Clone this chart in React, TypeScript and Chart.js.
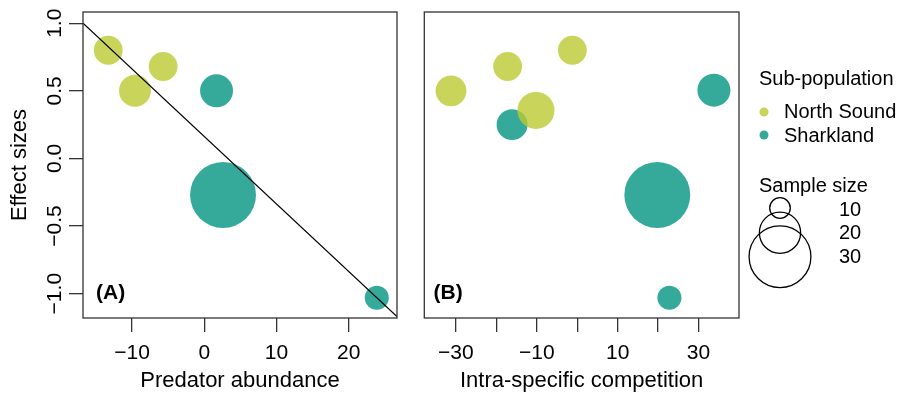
import React, { useEffect, useRef } from "react";
import { Chart, registerables } from "chart.js";
Chart.register(...registerables);

// ---------- Data ----------
// Panel A: effect sizes vs predator abundance
const nsPredX = [-13.3, -9.6, -5.7];
const nsPredY = [0.8, 0.5, 0.68];
const nsPredN = [14, 15.5, 14];
const shPredX = [1.7, 2.6, 23.9];
const shPredY = [0.5, -0.27, -1.03];
const shPredN = [16, 32, 11.7];
const fitX = [-16.8, 26.7];
const fitY = [1.0, -1.17];

// Panel B: effect sizes vs intra-specific competition
const nsCompX = [-31.2, -17.2, -1.2, -10.2];
const nsCompY = [0.5, 0.68, 0.8, 0.355];
const nsCompN = [15, 14, 14, 18];
const shCompX = [-16.1, 33.8, 19.8, 22.8];
const shCompY = [0.25, 0.505, -0.27, -1.03];
const shCompN = [15, 16, 32, 11.7];

const yTicks = [-1.0, -0.5, 0.0, 0.5, 1.0];
const predTicks = [-10, 0, 10, 20];
const compTicks = [-30, -20, -10, 0, 10, 20, 30];
const compLabels = [-30, -10, 10, 30];
const legendSizes = [10, 20, 30];
const groups = ["North Sound", "Sharkland"];

// ---------- Styles ----------
const NS_COLOR = "rgba(186,201,49,0.8)";
const SH_COLOR = "rgba(3,149,130,0.8)";
const NS_SOLID = "#c8d45a";
const SH_SOLID = "#35aa9b";
const AXIS_COLOR = "#333333";
const FONT = "'Liberation Sans', Arial, Helvetica, sans-serif";
const SIZE_SCALE = 1.03;

Chart.defaults.font.family = FONT;
Chart.defaults.color = "#000";

const fmtNum = (v: number, digits: number) => {
  const s = Math.abs(v).toFixed(digits);
  return v < 0 ? "\u2212" + s : s;
};

const boxPlugin = {
  id: "plotBox",
  afterDraw(chart: any) {
    const { ctx, chartArea } = chart;
    const { left, top, right, bottom } = chartArea;
    ctx.save();
    ctx.strokeStyle = AXIS_COLOR;
    ctx.lineWidth = 1.3;
    ctx.strokeRect(left, top, right - left, bottom - top);
    ctx.restore();
  },
};

const panelLabelPlugin = {
  id: "panelLabel",
  afterDatasetsDraw(chart: any, _args: any, opts: any) {
    if (!opts || !opts.text) return;
    const { ctx, scales } = chart;
    const px = scales.x.getPixelForValue(opts.x);
    const py = scales.y.getPixelForValue(opts.y);
    ctx.save();
    ctx.font = `bold 21px ${FONT}`;
    ctx.fillStyle = "#000";
    ctx.textAlign = "left";
    ctx.textBaseline = "middle";
    ctx.fillText(opts.text, px, py);
    ctx.restore();
  },
};

const bubbles = (xs: number[], ys: number[], ns: number[]) =>
  xs.map((x, i) => ({ x, y: ys[i], r: ns[i] * SIZE_SCALE }));

function makeConfig(p: {
  datasets: any[];
  xMin: number;
  xMax: number;
  xTicks: number[];
  xLabelSet: number[] | null;
  xTitle: string;
  showY: boolean;
  padding: any;
  label: any;
}): any {
  const tickGrid = {
    display: true,
    drawOnChartArea: false,
    drawTicks: true,
    tickLength: 14,
    color: AXIS_COLOR,
    lineWidth: 1.3,
  };
  return {
    type: "bubble",
    data: { datasets: p.datasets },
    plugins: [boxPlugin, panelLabelPlugin],
    options: {
      responsive: false,
      animation: false,
      events: [],
      layout: { padding: p.padding, autoPadding: false },
      plugins: {
        legend: { display: false },
        tooltip: { enabled: false },
        panelLabel: p.label,
      },
      scales: {
        x: {
          type: "linear",
          min: p.xMin,
          max: p.xMax,
          afterBuildTicks: (s: any) => {
            s.ticks = p.xTicks.map((v) => ({ value: v }));
          },
          afterFit: (s: any) => {
            s.height = 79;
            s.paddingLeft = 0;
            s.paddingRight = 0;
          },
          grid: tickGrid,
          border: { display: false },
          ticks: {
            autoSkip: false,
            minRotation: 0,
            maxRotation: 0,
            padding: 9,
            color: "#000",
            font: { size: 21 },
            callback: (v: number) =>
              p.xLabelSet && !p.xLabelSet.includes(v) ? "" : fmtNum(v, 0),
          },
          title: {
            display: true,
            text: p.xTitle,
            color: "#000",
            font: { size: 22 },
            padding: { top: 0, bottom: 3 },
          },
        },
        y: {
          type: "linear",
          display: p.showY,
          min: -1.18,
          max: 1.083,
          afterBuildTicks: (s: any) => {
            s.ticks = yTicks.map((v) => ({ value: v }));
          },
          afterFit: (s: any) => {
            if (p.showY) s.width = 83;
            s.paddingTop = 0;
            s.paddingBottom = 0;
          },
          grid: tickGrid,
          border: { display: false },
          ticks: {
            minRotation: 90,
            maxRotation: 90,
            crossAlign: "center",
            padding: -7,
            color: "#000",
            font: { size: 21 },
            callback: (v: number) => fmtNum(v, 1),
          },
          title: {
            display: true,
            text: "Effect sizes",
            color: "#000",
            font: { size: 22 },
            padding: { top: 7, bottom: 0 },
          },
        },
      },
    },
  };
}

function ChartCanvas({ config, width, height, left }: any) {
  const ref = useRef<HTMLCanvasElement | null>(null);
  useEffect(() => {
    if (!ref.current) return;
    const chart = new Chart(ref.current, config);
    return () => chart.destroy();
  }, []);
  return (
    <canvas
      ref={ref}
      width={width}
      height={height}
      style={{ position: "absolute", left, top: 0, width, height }}
    />
  );
}

const configA = makeConfig({
  datasets: [
    {
      type: "line",
      data: fitX.map((x, i) => ({ x, y: fitY[i] })),
      borderColor: "#000",
      borderWidth: 1.3,
      pointRadius: 0,
      fill: false,
      order: 0,
    },
    {
      label: groups[0],
      data: bubbles(nsPredX, nsPredY, nsPredN),
      backgroundColor: NS_COLOR,
      borderWidth: 0,
      order: 1,
    },
    {
      label: groups[1],
      data: bubbles(shPredX, shPredY, shPredN),
      backgroundColor: SH_COLOR,
      borderWidth: 0,
      order: 2,
    },
  ],
  xMin: -16.8,
  xMax: 26.7,
  xTicks: predTicks,
  xLabelSet: null,
  xTitle: "Predator abundance",
  showY: true,
  padding: { left: 0, top: 12, right: 13, bottom: 0 },
  label: { text: "(A)", x: -15, y: -1.0 },
});

const configB = makeConfig({
  datasets: [
    {
      label: groups[0],
      data: bubbles(nsCompX, nsCompY, nsCompN),
      backgroundColor: NS_COLOR,
      borderWidth: 0,
      order: 1,
    },
    {
      label: groups[1],
      data: bubbles(shCompX, shCompY, shCompN),
      backgroundColor: SH_COLOR,
      borderWidth: 0,
      order: 2,
    },
  ],
  xMin: -37.8,
  xMax: 40.0,
  xTicks: compTicks,
  xLabelSet: compLabels,
  xTitle: "Intra-specific competition",
  showY: false,
  padding: { left: 14.3, top: 12, right: 11, bottom: 0 },
  label: { text: "(B)", x: -35.5, y: -1.0 },
});

function Legend() {
  const labelY = [215.7, 239, 263];
  const circleY = [208, 232.7, 256.7];
  return (
    <svg
      width={158}
      height={397}
      style={{ position: "absolute", left: 740, top: 0 }}
      fontFamily={FONT}
    >
      <text x={19} y={84.5} fontSize={20} fill="#000">
        Sub-population
      </text>
      <circle cx={24} cy={112} r={4.5} fill={NS_SOLID} />
      <text x={44} y={118} fontSize={20} fill="#000">
        {groups[0]}
      </text>
      <circle cx={24} cy={135} r={4.5} fill={SH_SOLID} />
      <text x={44} y={141.5} fontSize={20} fill="#000">
        {groups[1]}
      </text>
      <text x={19} y={191.5} fontSize={20} fill="#000">
        Sample size
      </text>
      {legendSizes.map((n, i) => (
        <circle
          key={"c" + n}
          cx={40}
          cy={circleY[i]}
          r={n * SIZE_SCALE}
          fill="none"
          stroke="#000"
          strokeWidth={1.3}
        />
      ))}
      {legendSizes.map((n, i) => (
        <text key={"t" + n} x={99} y={labelY[i]} fontSize={20} fill="#000">
          {String(n)}
        </text>
      ))}
    </svg>
  );
}

export default function App() {
  return (
    <div
      style={{
        position: "absolute",
        left: 0,
        top: 0,
        width: 898,
        height: 397,
        background: "#fff",
        overflow: "hidden",
      }}
    >
      <ChartCanvas config={configA} width={410} height={397} left={0} />
      <ChartCanvas config={configB} width={340} height={397} left={410} />
      <Legend />
    </div>
  );
}
